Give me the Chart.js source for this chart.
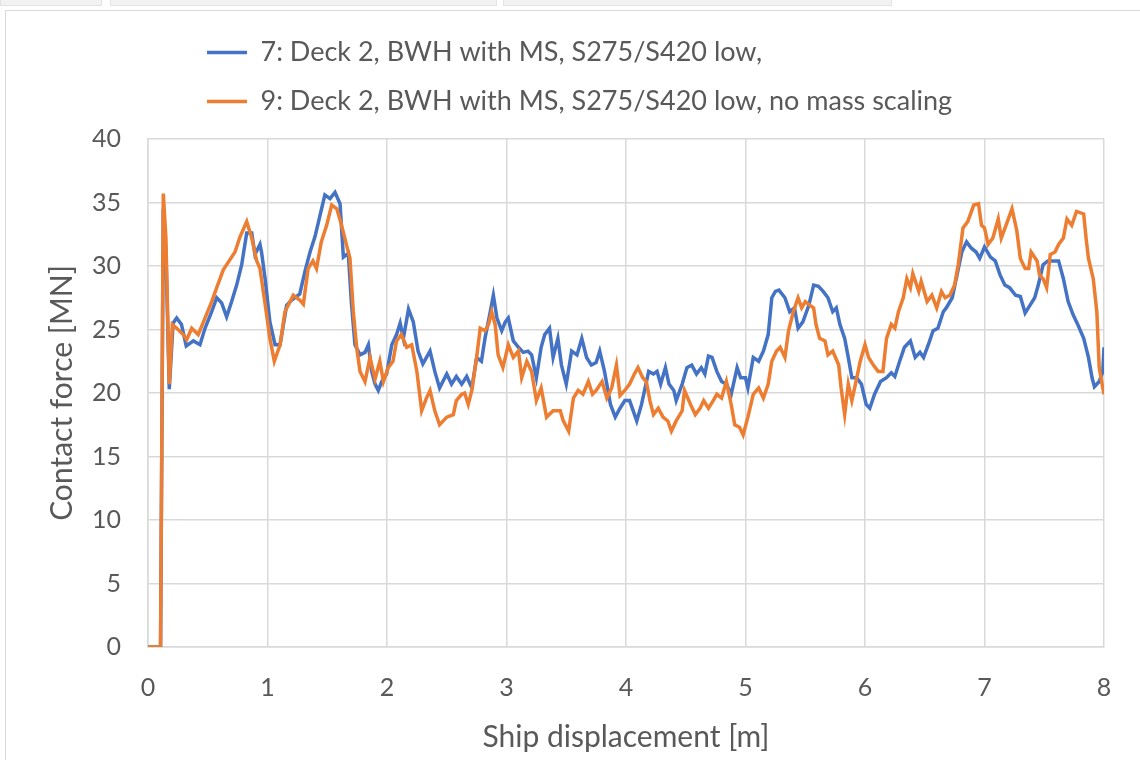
<!DOCTYPE html>
<html>
<head>
<meta charset="utf-8">
<script src="https://cdn.jsdelivr.net/npm/chart.js@4.4.1/dist/chart.umd.min.js"></script>
<style>
  html, body { margin: 0; padding: 0; background: #fff; }
  #tabs div { position: absolute; top: 0; height: 5px; background: #f2f2f2; border: 1px solid #e3e3e3; border-top: none; }
  #frame { position: absolute; left: 5px; top: 10px; width: 1140px; height: 760px; border-left: 1px solid #d9d9d9; border-top: 1px solid #d9d9d9; }
  #wrap { position: absolute; left: 0; top: 0; width: 1140px; height: 760px; }
</style>
</head>
<body>
<div id="tabs">
  <div style="left:0;width:100px"></div>
  <div style="left:110px;width:385px"></div>
  <div style="left:503px;width:387px"></div>
</div>
<div id="frame"></div>
<div id="wrap"><canvas id="myChart" width="1140" height="760"></canvas></div>
<script>
// series 7 (blue)
const blueX = [0, 0.105, 0.128, 0.15, 0.178, 0.21, 0.24, 0.28, 0.32, 0.38, 0.435, 0.477, 0.533, 0.575, 0.616, 0.658, 0.70, 0.742, 0.784, 0.826, 0.868, 0.895, 0.937, 0.95, 0.98,
  1.02, 1.063, 1.105, 1.16, 1.20, 1.27, 1.314, 1.356, 1.397, 1.44, 1.48, 1.523, 1.565, 1.607, 1.635, 1.676, 1.703, 1.732, 1.774, 1.816, 1.844, 1.872, 1.90, 1.927, 1.956, 1.997,
  2.04, 2.08, 2.11, 2.137, 2.18, 2.22, 2.26, 2.30, 2.36, 2.40, 2.44, 2.50, 2.54, 2.58, 2.625, 2.667, 2.71, 2.75, 2.79, 2.82, 2.86, 2.89, 2.92, 2.96, 2.99,
  3.015, 3.057, 3.10, 3.14, 3.18, 3.21, 3.25, 3.29, 3.32, 3.36, 3.39, 3.43, 3.46, 3.50, 3.545, 3.59, 3.63, 3.67, 3.71, 3.75, 3.78, 3.82, 3.87, 3.91, 3.95, 3.99,
  4.03, 4.09, 4.13, 4.19, 4.23, 4.26, 4.29, 4.33, 4.36, 4.40, 4.42, 4.47, 4.51, 4.55, 4.59, 4.63, 4.66, 4.69, 4.72, 4.76, 4.80, 4.84, 4.88, 4.93, 4.96, 5.00,
  5.02, 5.065, 5.11, 5.15, 5.19, 5.22, 5.25, 5.28, 5.33, 5.37, 5.41, 5.44, 5.48, 5.53, 5.57, 5.61, 5.65, 5.69, 5.73, 5.76, 5.79, 5.83, 5.86, 5.89, 5.93, 5.97,
  6.01, 6.04, 6.08, 6.13, 6.18, 6.22, 6.25, 6.29, 6.33, 6.38, 6.42, 6.46, 6.49, 6.53, 6.57, 6.61, 6.655, 6.68, 6.73, 6.77, 6.81, 6.85, 6.89, 6.93, 6.96,
  7.00, 7.05, 7.09, 7.13, 7.17, 7.21, 7.26, 7.30, 7.34, 7.38, 7.42, 7.45, 7.49, 7.53, 7.58, 7.62, 7.66, 7.70, 7.74, 7.78, 7.83, 7.87, 7.90, 7.92, 7.96, 7.99, 8.00];
const blueY = [0, 0, 34.5, 31.0, 20.3, 25.5, 25.9, 25.4, 23.7, 24.1, 23.8, 25.1, 26.4, 27.5, 27.1, 26.0, 27.2, 28.5, 30.1, 32.6, 32.6, 30.9, 31.7, 31.1, 29.0,
  25.6, 23.8, 23.8, 26.9, 27.3, 27.8, 29.6, 31.1, 32.3, 34.0, 35.6, 35.3, 35.8, 34.9, 30.7, 31.0, 27.0, 23.8, 23.0, 23.2, 23.8, 21.7, 20.7, 20.2, 20.9, 21.5,
  23.8, 24.6, 25.5, 24.3, 26.6, 25.6, 23.3, 22.3, 23.3, 21.7, 20.4, 21.5, 20.7, 21.3, 20.7, 21.3, 20.4, 22.8, 22.5, 24.3, 26.2, 27.7, 25.9, 24.9, 25.6,
  25.9, 24.1, 23.6, 23.2, 23.3, 23.0, 21.2, 23.6, 24.6, 25.1, 22.8, 24.3, 22.2, 20.7, 23.3, 23.0, 24.3, 22.8, 22.2, 22.4, 23.3, 21.7, 19.1, 18.1, 18.8, 19.4,
  19.4, 17.8, 19.1, 21.7, 21.5, 21.7, 20.7, 22.0, 20.7, 20.2, 19.4, 20.7, 22.0, 22.2, 21.5, 22.0, 21.5, 22.9, 22.8, 21.7, 20.9, 20.7, 19.9, 22.0, 21.2, 21.2,
  20.4, 22.8, 22.5, 23.3, 24.6, 27.5, 28.0, 28.1, 27.5, 26.4, 26.7, 25.1, 25.6, 26.9, 28.5, 28.4, 28.0, 27.5, 26.4, 26.7, 25.4, 24.3, 22.8, 21.2, 21.2, 20.7,
  19.1, 18.8, 19.9, 20.9, 21.2, 21.6, 21.3, 22.5, 23.6, 24.1, 22.8, 23.2, 22.8, 23.8, 24.9, 25.1, 26.4, 26.7, 27.5, 29.3, 31.1, 31.9, 31.4, 31.1, 30.6,
  31.5, 30.7, 30.4, 29.3, 28.5, 28.3, 27.7, 27.6, 26.3, 26.9, 27.5, 28.5, 30.1, 30.4, 30.4, 30.4, 29.0, 27.2, 26.2, 25.4, 24.3, 22.8, 21.2, 20.5, 20.9, 21.7, 23.6];

// series 9 (orange)
const orangeX = [0, 0.105, 0.128, 0.15, 0.178, 0.204, 0.24, 0.295, 0.324, 0.366, 0.42, 0.477, 0.533, 0.575, 0.63, 0.686, 0.728, 0.77, 0.826, 0.868, 0.91, 0.937, 0.98,
  1.02, 1.057, 1.105, 1.146, 1.216, 1.272, 1.30, 1.34, 1.38, 1.41, 1.45, 1.495, 1.537, 1.58, 1.62, 1.66, 1.69, 1.718, 1.746, 1.774, 1.816, 1.858, 1.90, 1.94, 1.97,
  2.01, 2.05, 2.08, 2.12, 2.165, 2.207, 2.25, 2.29, 2.33, 2.36, 2.40, 2.44, 2.50, 2.555, 2.58, 2.625, 2.65, 2.68, 2.71, 2.75, 2.78, 2.82, 2.85, 2.876, 2.905, 2.93, 2.97,
  3.015, 3.057, 3.10, 3.127, 3.17, 3.21, 3.25, 3.29, 3.335, 3.39, 3.45, 3.475, 3.52, 3.56, 3.60, 3.64, 3.685, 3.72, 3.75, 3.80, 3.84, 3.88, 3.92, 3.95, 3.99,
  4.03, 4.07, 4.10, 4.14, 4.17, 4.20, 4.23, 4.27, 4.31, 4.35, 4.38, 4.42, 4.47, 4.49, 4.54, 4.58, 4.62, 4.65, 4.69, 4.73, 4.76, 4.80, 4.84, 4.88, 4.91, 4.95, 4.98,
  5.02, 5.065, 5.11, 5.15, 5.19, 5.22, 5.26, 5.29, 5.33, 5.36, 5.40, 5.44, 5.47, 5.50, 5.54, 5.57, 5.59, 5.62, 5.665, 5.69, 5.73, 5.78, 5.80, 5.83, 5.86, 5.89, 5.92, 5.96,
  6.00, 6.03, 6.07, 6.11, 6.15, 6.18, 6.22, 6.25, 6.28, 6.32, 6.35, 6.38, 6.40, 6.45, 6.47, 6.52, 6.56, 6.60, 6.64, 6.67, 6.71, 6.75, 6.78, 6.82, 6.86, 6.91, 6.95, 6.975,
  7.00, 7.03, 7.07, 7.115, 7.14, 7.18, 7.23, 7.27, 7.30, 7.34, 7.37, 7.39, 7.44, 7.46, 7.49, 7.52, 7.55, 7.59, 7.62, 7.66, 7.69, 7.73, 7.77, 7.83, 7.85, 7.87, 7.91, 7.94, 7.96, 7.98, 8.00];
const orangeY = [0, 0, 35.7, 32.2, 20.7, 25.4, 25.1, 24.6, 24.2, 25.1, 24.6, 25.9, 27.2, 28.3, 29.7, 30.5, 31.1, 32.3, 33.5, 32.2, 30.4, 29.8, 27.0,
  24.3, 22.5, 23.8, 26.4, 27.7, 27.3, 27.0, 29.8, 30.4, 29.8, 31.9, 33.2, 34.8, 34.5, 33.2, 31.7, 30.6, 26.4, 23.6, 21.7, 20.9, 22.8, 21.1, 22.5, 20.9,
  22.0, 22.5, 24.1, 24.6, 23.6, 23.8, 21.7, 18.6, 19.6, 20.2, 18.6, 17.5, 18.1, 18.3, 19.4, 19.9, 20.0, 19.1, 20.2, 22.8, 25.1, 24.9, 25.4, 26.4, 25.4, 23.0, 22.0,
  23.8, 22.8, 23.3, 21.2, 22.5, 21.7, 19.4, 20.4, 18.1, 18.6, 18.6, 17.8, 17.0, 19.6, 20.2, 19.9, 20.9, 19.9, 20.2, 20.9, 19.6, 20.4, 22.2, 19.8, 20.2,
  20.7, 21.5, 22.0, 21.2, 20.9, 19.4, 18.3, 18.8, 18.1, 17.8, 17.0, 17.8, 18.6, 20.2, 19.1, 18.3, 18.8, 19.4, 18.8, 19.4, 19.9, 19.6, 20.9, 19.1, 17.5, 17.3, 16.7,
  18.1, 19.9, 20.4, 19.6, 20.7, 22.5, 23.3, 23.6, 22.8, 24.9, 26.4, 27.5, 26.7, 27.2, 26.9, 26.7, 25.4, 24.3, 24.1, 23.0, 23.3, 22.2, 20.4, 18.3, 20.7, 19.4, 20.7, 22.5,
  23.8, 22.8, 22.2, 21.7, 21.7, 24.3, 25.4, 25.1, 26.4, 27.5, 29.0, 28.3, 29.4, 28.0, 28.8, 27.2, 27.7, 26.7, 28.0, 27.5, 27.7, 28.5, 30.1, 33.0, 33.5, 34.8, 34.9, 33.2,
  33.0, 31.7, 32.2, 33.7, 32.2, 33.2, 34.5, 32.8, 30.6, 29.8, 29.8, 31.1, 30.4, 29.3, 29.0, 28.3, 30.9, 31.1, 31.7, 32.2, 33.7, 33.2, 34.3, 34.1, 32.2, 30.6, 29.0, 26.4, 22.0, 20.9, 19.9];

const seriesNames = [
  '7: Deck 2, BWH with MS, S275/S420 low,',
  '9: Deck 2, BWH with MS, S275/S420 low, no mass scaling'
];
const xTitle = 'Ship displacement [m]';
const yTitle = 'Contact force [MN]';

function toPoints(xs, ys) {
  return xs.map((x, i) => ({x: x, y: ys[i]}));
}

const FONT = 'Lato';
const TXT = '#595959';
const GRID = '#d9d9d9';

// moves the legend block to where the original sits
const legendShift = {
  id: 'legendShift',
  afterLayout(chart) {
    chart.legend.left += 145;
    chart.legend.right += 145;
    chart.legend.top -= 14;
  }
};

const ctx = document.getElementById('myChart');
new Chart(ctx, {
  type: 'scatter',
  data: {
    datasets: [{
      label: seriesNames[0],
      data: toPoints(blueX, blueY),
      borderColor: '#4472C4',
      backgroundColor: '#4472C4',
      borderWidth: 3.5,
      showLine: true,
      pointRadius: 0,
      order: 1
    }, {
      label: seriesNames[1],
      data: toPoints(orangeX, orangeY),
      borderColor: '#ED7D31',
      backgroundColor: '#ED7D31',
      borderWidth: 3.5,
      showLine: true,
      pointRadius: 0,
      order: 0
    }]
  },
  options: {
    responsive: false,
    animation: false,
    layout: { padding: { left: 40, right: 36, top: 31, bottom: 1 } },
    plugins: {
      tooltip: { enabled: false },
      legend: {
        position: 'top',
        align: 'start',
        labels: {
          usePointStyle: true,
          pointStyle: 'line',
          pointStyleWidth: 40,
          padding: 22,
          color: TXT,
          font: { family: FONT, size: 27 },
          sort: (a, b) => a.datasetIndex - b.datasetIndex
        }
      }
    },
    scales: {
      x: {
        type: 'linear',
        min: 0, max: 8,
        ticks: { stepSize: 1, color: TXT, font: { family: FONT, size: 25 }, padding: 26 },
        grid: { color: GRID, lineWidth: 1.5, drawTicks: false },
        border: { color: GRID, width: 1.5 },
        title: { display: true, text: xTitle, color: TXT, font: { family: FONT, size: 30 } },
        afterFit(scale) { scale.height = 112; }
      },
      y: {
        min: 0, max: 40,
        ticks: { stepSize: 5, color: TXT, font: { family: FONT, size: 25 }, padding: 27 },
        grid: { color: GRID, lineWidth: 1.5, drawTicks: false },
        border: { color: GRID, width: 1.5 },
        title: { display: true, text: yTitle, color: TXT, font: { family: FONT, size: 30 } },
        afterFit(scale) { scale.width = 108; }
      }
    }
  },
  plugins: [legendShift]
});
</script>
</body>
</html>
